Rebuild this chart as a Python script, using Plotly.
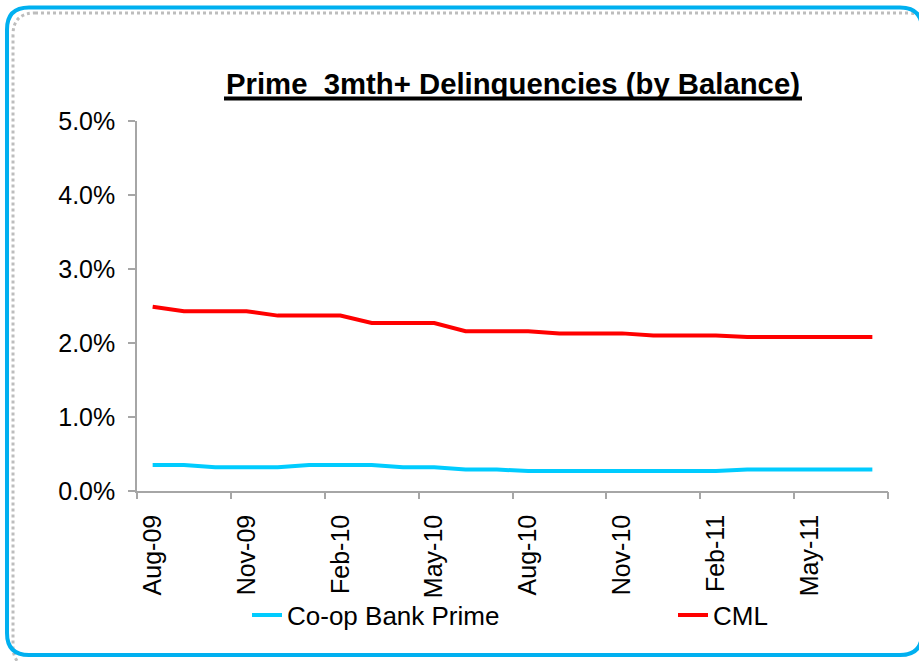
import plotly.graph_objects as go

months = ["Aug-09", "Sep-09", "Oct-09", "Nov-09", "Dec-09", "Jan-10", "Feb-10", "Mar-10",
          "Apr-10", "May-10", "Jun-10", "Jul-10", "Aug-10", "Sep-10", "Oct-10", "Nov-10",
          "Dec-10", "Jan-11", "Feb-11", "Mar-11", "Apr-11", "May-11", "Jun-11", "Jul-11"]
coop_prime = [0.0035, 0.0035, 0.0032, 0.0032, 0.0032, 0.0035, 0.0035, 0.0035,
              0.0032, 0.0032, 0.0029, 0.0029, 0.0027, 0.0027, 0.0027, 0.0027,
              0.0027, 0.0027, 0.0027, 0.0029, 0.0029, 0.0029, 0.0029, 0.0029]
cml = [0.0249, 0.0243, 0.0243, 0.0243, 0.0237, 0.0237, 0.0237, 0.0227,
       0.0227, 0.0227, 0.0216, 0.0216, 0.0216, 0.0213, 0.0213, 0.0213,
       0.0210, 0.0210, 0.0210, 0.0208, 0.0208, 0.0208, 0.0208, 0.0208]
label_step = 3
title_text = "Prime  3mth+ Delinquencies (by Balance)"

W, H = 919, 661
L, R, T, B = 137, 888, 121, 491
FONT = "Liberation Sans, Arial, sans-serif"

def px(x):
    return (x - L) / (R - L)

def py(y):
    return (B - y) / (B - T)

def rounded_path(x0, y0, x1, y1, r):
    pts = [("M", (x0 + r, y0)), ("L", (x1 - r, y0)), ("Q", (x1, y0), (x1, y0 + r)),
           ("L", (x1, y1 - r)), ("Q", (x1, y1), (x1 - r, y1)), ("L", (x0 + r, y1)),
           ("Q", (x0, y1), (x0, y1 - r)), ("L", (x0, y0 + r)), ("Q", (x0, y0), (x0 + r, y0))]
    s = ""
    for item in pts:
        cmd = item[0]
        coords = " ".join(f"{px(a):.5f},{py(b):.5f}" for a, b in item[1:])
        s += f"{cmd} {coords} "
    return s + "Z"

idx = list(range(len(months)))
n = len(months)
label_vals = idx[::label_step]
label_text = [months[i] for i in label_vals]
bound_vals = [i - 0.5 for i in range(0, n + 1, label_step)]

fig = go.Figure()
fig.add_trace(go.Scatter(x=idx, y=coop_prime, mode="lines", name="Co-op Bank Prime",
                         line=dict(color="#00CCFF", width=4), xaxis="x", yaxis="y",
                         legend="legend"))
fig.add_trace(go.Scatter(x=idx, y=cml, mode="lines", name="CML",
                         line=dict(color="#FF0000", width=4), xaxis="x2", yaxis="y",
                         legend="legend2"))

axis_col = "#A6A6A6"
legend_common = dict(orientation="h", yanchor="middle", font=dict(size=26),
                     bgcolor="rgba(0,0,0,0)", borderwidth=0)
fig.update_layout(
    width=W, height=H, autosize=False,
    margin=dict(l=L, r=W - R, t=T, b=H - B, pad=0),
    paper_bgcolor="white", plot_bgcolor="white",
    font=dict(family=FONT, color="black", size=25),
    showlegend=True,
    title=dict(text="<b>" + title_text + "</b>", x=513 / W, xanchor="center",
               y=1 - 84 / H, yanchor="middle", yref="container",
               font=dict(family=FONT, size=29.3, color="black")),
    xaxis=dict(range=[-0.5, n - 0.5], tickmode="array", tickvals=label_vals, ticktext=label_text,
               tickangle=-90, ticks="", showgrid=False, zeroline=False, showline=True,
               linecolor=axis_col, linewidth=1.5, tickfont=dict(size=25),
               ticklabelstandoff=12, fixedrange=True),
    xaxis2=dict(range=[-0.5, n - 0.5], overlaying="x", anchor="y", side="bottom",
                tickmode="array", tickvals=bound_vals, showticklabels=False, ticks="outside",
                ticklen=7, tickwidth=1.5, tickcolor=axis_col, showgrid=False, zeroline=False,
                showline=False, fixedrange=True),
    yaxis=dict(range=[0, 0.05], tickmode="linear", tick0=0, dtick=0.01, tickformat=".1%",
               ticks="outside", ticklen=7, tickwidth=1.5, tickcolor=axis_col,
               showline=True, linecolor=axis_col, linewidth=1.5, showgrid=False,
               zeroline=False, tickfont=dict(size=25), ticklabelstandoff=8, fixedrange=True),
    legend=dict(x=px(247), xanchor="left", y=py(615), **legend_common),
    legend2=dict(x=px(673), xanchor="left", y=py(615), **legend_common),
    shapes=[
        dict(type="path", xref="paper", yref="paper", path=rounded_path(13, 13, 930, 668, 22),
             line=dict(color="#BDBDBD", width=3, dash="dot"), layer="below"),
        dict(type="path", xref="paper", yref="paper", path=rounded_path(7, 7.5, 922, 655, 22),
             line=dict(color="#00B0F0", width=4), layer="above"),
        dict(type="line", xref="paper", yref="paper", x0=px(224), x1=px(802),
             y0=py(98.5), y1=py(98.5), line=dict(color="black", width=4)),
    ],
)

fig.write_html("out.html")
